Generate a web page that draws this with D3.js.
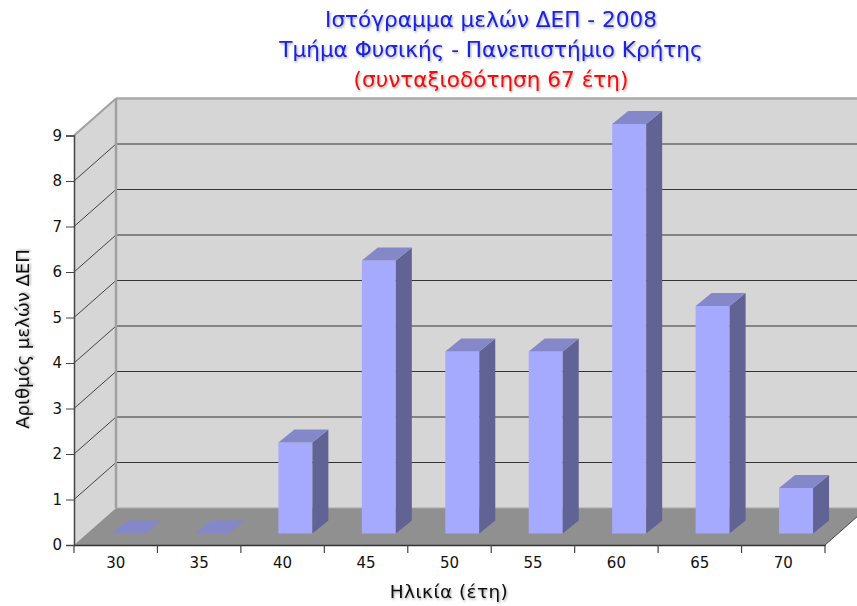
<!DOCTYPE html>
<html>
<head>
<meta charset="utf-8">
<script src="https://cdn.jsdelivr.net/npm/d3@7"></script>
<style>
body { margin: 0; background: #fff; }
text { font-family: "DejaVu Sans", sans-serif; fill: #111; }
</style>
</head>
<body>
<div id="chart"></div>
<script>
const ages = ['30', '35', '40', '45', '50', '55', '60', '65', '70'];
const members = [0, 0, 2, 6, 4, 4, 9, 5, 1];
const yTicks = [0, 1, 2, 3, 4, 5, 6, 7, 8, 9];
const titleLines = ['Ιστόγραμμα μελών ΔΕΠ - 2008', 'Τμήμα Φυσικής - Πανεπιστήμιο Κρήτης', '(συνταξιοδότηση 67 έτη)'];
const titleColors = ['#1a22e0', '#1a22e0', '#f01010'];

const width = 857;
const height = 606;

const svg = d3.select('#chart').append('svg')
    .attr('width', width)
    .attr('height', height)
    .style('display', 'block');

const defs = svg.append('defs');
defs.append('filter').attr('id', 'soft')
    .attr('x', '-5%').attr('y', '-20%').attr('width', '110%').attr('height', '150%')
    .append('feDropShadow')
    .attr('dx', 1).attr('dy', 1.5).attr('stdDeviation', 1)
    .attr('flood-color', '#000').attr('flood-opacity', 0.35);

const x = d3.scaleBand().domain(ages).range([74, 825]);
const y = d3.scaleLinear().domain([0, 9]).range([545, 135.5]);

// depth of the box and of each bar
const depthX = 42, depthY = 37;
const barW = 34, barDx = 16, barDy = 13;
const barBase = 533.5; // front bottom of bars on the floor
const barH = v => y(0) - y(v);
const pts = a => a.map(p => p.join(',')).join(' ');

const right = x.range()[1];

// back wall
svg.append('rect')
    .attr('x', x.range()[0] + depthX).attr('y', y(9) - depthY)
    .attr('width', right - x.range()[0]).attr('height', barH(9))
    .attr('fill', '#d6d6d6');

// left wall
svg.append('polygon')
    .attr('points', pts([[74, y(9)], [74 + depthX, y(9) - depthY], [74 + depthX, y(0) - depthY], [74, y(0)]]))
    .attr('fill', '#d6d6d6');

// floor
svg.append('polygon')
    .attr('points', pts([[74, y(0)], [74 + depthX, y(0) - depthY], [right + depthX, y(0) - depthY], [right, y(0)]]))
    .attr('fill', '#909090');

// gridlines
yTicks.filter(d => d > 0).forEach(d => {
    if (d < 9) {
        svg.append('line')
            .attr('x1', 74 + depthX).attr('x2', right + depthX)
            .attr('y1', y(d) - depthY).attr('y2', y(d) - depthY)
            .attr('stroke', '#333').attr('stroke-width', 1);
    }
    svg.append('line')
        .attr('x1', 74).attr('x2', 74 + depthX)
        .attr('y1', y(d)).attr('y2', y(d) - depthY)
        .attr('stroke', d < 9 ? '#444' : '#a0a0a0').attr('stroke-width', d < 9 ? 1 : 2);
});

// wall edges
svg.append('line')
    .attr('x1', 74 + depthX).attr('x2', 74 + depthX)
    .attr('y1', y(9) - depthY).attr('y2', y(0) - depthY)
    .attr('stroke', '#a0a0a0').attr('stroke-width', 2.5);
svg.append('line')
    .attr('x1', 74 + depthX).attr('x2', width)
    .attr('y1', y(9) - depthY).attr('y2', y(9) - depthY)
    .attr('stroke', '#a8a8a8').attr('stroke-width', 2.5);
svg.append('line')
    .attr('x1', 74 + depthX).attr('x2', width)
    .attr('y1', y(0) - depthY).attr('y2', y(0) - depthY)
    .attr('stroke', '#a8a8a8').attr('stroke-width', 1);
svg.append('line')
    .attr('x1', right).attr('x2', right + depthX)
    .attr('y1', y(0)).attr('y2', y(0) - depthY)
    .attr('stroke', '#444').attr('stroke-width', 1);

// bars
const bars = svg.selectAll('.bar')
    .data(ages.map((a, i) => ({ age: a, value: members[i] })))
    .enter().append('g')
    .attr('class', 'bar');

const barX = d => x(d.age) + 37.5;
const barTop = d => barBase - barH(d.value);

bars.filter(d => d.value > 0).append('rect')
    .attr('x', barX)
    .attr('y', barTop)
    .attr('width', barW)
    .attr('height', d => barH(d.value))
    .attr('fill', '#a6aaff');

bars.filter(d => d.value > 0).append('polygon')
    .attr('points', d => pts([
        [barX(d) + barW, barTop(d)],
        [barX(d) + barW + barDx, barTop(d) - barDy],
        [barX(d) + barW + barDx, barBase - barDy],
        [barX(d) + barW, barBase]]))
    .attr('fill', '#616394');

bars.append('polygon')
    .attr('points', d => pts([
        [barX(d), barTop(d)],
        [barX(d) + barDx, barTop(d) - barDy],
        [barX(d) + barW + barDx, barTop(d) - barDy],
        [barX(d) + barW, barTop(d)]]))
    .attr('fill', '#8488c8');

// axes
const xAxis = svg.append('g').attr('transform', `translate(0,${y(0)})`)
    .call(d3.axisBottom(x).tickSize(0).tickPadding(12));
xAxis.select('.domain').attr('stroke', '#333').attr('stroke-width', 1.5);
xAxis.selectAll('text').attr('font-size', 15).attr('font-family', '"DejaVu Sans", sans-serif');

// x ticks sit on the band edges, not the centres
svg.append('g').selectAll('line')
    .data(ages.concat('end'))
    .enter().append('line')
    .attr('x1', d => d === 'end' ? right : x(d))
    .attr('x2', d => d === 'end' ? right : x(d))
    .attr('y1', y(0)).attr('y2', y(0) + 8)
    .attr('stroke', '#444').attr('stroke-width', 1.2);

const yAxis = svg.append('g').attr('transform', 'translate(74,0)')
    .call(d3.axisLeft(y).tickValues(yTicks).tickFormat(d3.format('d')).tickSize(8).tickPadding(4));
yAxis.select('.domain').attr('stroke', '#444').attr('stroke-width', 1.5);
yAxis.selectAll('.tick line').attr('stroke', '#444');
yAxis.selectAll('text').attr('font-size', 15).attr('font-family', '"DejaVu Sans", sans-serif');

// titles
svg.selectAll('.title')
    .data(titleLines)
    .enter().append('text')
    .attr('class', 'title')
    .attr('x', 491)
    .attr('y', (d, i) => 27 + i * 30)
    .attr('text-anchor', 'middle')
    .attr('font-size', 21.6)
    .attr('filter', 'url(#soft)')
    .style('fill', (d, i) => titleColors[i])
    .text(d => d);

svg.append('text')
    .attr('x', 449).attr('y', 598)
    .attr('text-anchor', 'middle')
    .attr('font-size', 18.5)
    .attr('letter-spacing', 0.4)
    .attr('filter', 'url(#soft)')
    .text('Ηλικία (έτη)');

svg.append('text')
    .attr('transform', 'translate(29,339) rotate(-90)')
    .attr('text-anchor', 'middle')
    .attr('font-size', 18)
    .attr('filter', 'url(#soft)')
    .text('Αριθμός μελών ΔΕΠ');
</script>
</body>
</html>
